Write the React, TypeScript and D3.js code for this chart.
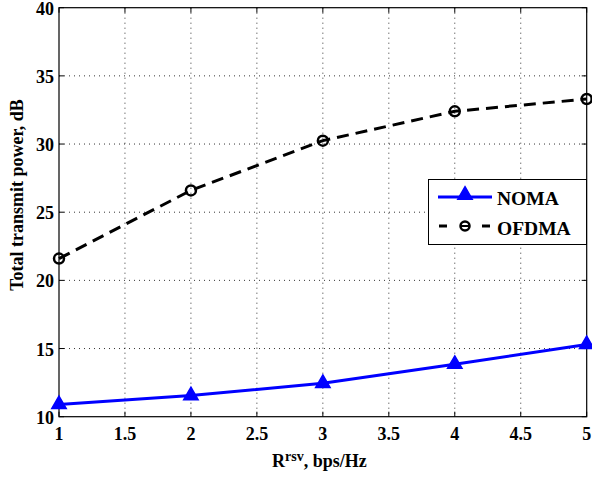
import React from "react";
import * as d3 from "d3";

const xValues = [1, 2, 3, 4, 5];
const nomaValues = [10.9, 11.55, 12.45, 13.85, 15.3];
const ofdmaValues = [21.6, 26.6, 30.25, 32.4, 33.3];
const xTicks = [1, 1.5, 2, 2.5, 3, 3.5, 4, 4.5, 5];
const yTicks = [10, 15, 20, 25, 30, 35, 40];

const W = 592, H = 478;
const L = 59, R = 586.7, T = 7.7, B = 416.7;

export default function App() {
  const x = d3.scaleLinear().domain([1, 5]).range([L, R]);
  const y = d3.scaleLinear().domain([10, 40]).range([B, T]);
  const line = d3.line<number>().x((_, i) => x(xValues[i])).y((d) => y(d));
  const font = "'Liberation Serif', 'DejaVu Serif', serif";
  const ts = { fontFamily: font, fontWeight: 700 } as React.CSSProperties;
  const tri = d3.symbol().type(d3.symbolTriangle).size(90)();
  return (
    <svg width={W} height={H} style={{ position: "absolute", left: 0, top: 0, background: "#fff" }}>
      <rect x={0} y={0} width={W} height={H} fill="#fff" />
      {xTicks.slice(1, -1).map((t) => (
        <line key={"gx" + t} x1={x(t)} x2={x(t)} y1={T} y2={B} stroke="#000" strokeWidth={0.8} strokeDasharray="1,4" />
      ))}
      {yTicks.slice(1, -1).map((t) => (
        <line key={"gy" + t} x1={L} x2={R} y1={y(t)} y2={y(t)} stroke="#000" strokeWidth={0.8} strokeDasharray="1,4" />
      ))}
      {xTicks.map((t) => (
        <g key={"tx" + t}>
          <line x1={x(t)} x2={x(t)} y1={B} y2={B - 5} stroke="#000" />
          <line x1={x(t)} x2={x(t)} y1={T} y2={T + 5} stroke="#000" />
          <text x={x(t)} y={B + 23.5} textAnchor="middle" fontSize={18} style={ts}>{t}</text>
        </g>
      ))}
      {yTicks.map((t) => (
        <g key={"ty" + t}>
          <line x1={L} x2={L + 5} y1={y(t)} y2={y(t)} stroke="#000" />
          <line x1={R} x2={R - 5} y1={y(t)} y2={y(t)} stroke="#000" />
          <text x={L - 5} y={y(t) + 7} textAnchor="end" fontSize={18} style={ts}>{t}</text>
        </g>
      ))}
      <rect x={L} y={T} width={R - L} height={B - T} fill="none" stroke="#000" strokeWidth={1.2} />
      <path d={line(ofdmaValues) || ""} fill="none" stroke="#000" strokeWidth={3} strokeDasharray="12,7" />
      {ofdmaValues.map((v, i) => (
        <circle key={"c" + i} cx={x(xValues[i])} cy={y(v)} r={5} fill="none" stroke="#000" strokeWidth={2.5} />
      ))}
      <path d={line(nomaValues) || ""} fill="none" stroke="#0000ff" strokeWidth={3} />
      {nomaValues.map((v, i) => (
        <path key={"t" + i} d={tri || ""} transform={`translate(${x(xValues[i])},${y(v)})`} fill="#0000ff" stroke="#0000ff" strokeWidth={1.5} />
      ))}
      <g>
        <rect x={428.5} y={179.5} width={158} height={65} fill="#fff" stroke="#000" strokeWidth={1} />
        <line x1={438} x2={492} y1={197} y2={197} stroke="#0000ff" strokeWidth={3} />
        <path d={tri || ""} transform="translate(465,195)" fill="#0000ff" stroke="#0000ff" strokeWidth={1.5} />
        <text x={497} y={204.5} fontSize={19.5} style={ts}>NOMA</text>
        <line x1={439} x2={447} y1={226} y2={226} stroke="#000" strokeWidth={3} />
        <line x1={482} x2={490} y1={226} y2={226} stroke="#000" strokeWidth={3} />
        <circle cx={465} cy={226} r={4.5} fill="none" stroke="#000" strokeWidth={2.5} />
        <line x1={461} x2={469} y1={226} y2={226} stroke="#000" strokeWidth={2} />
        <text x={497} y={234.5} fontSize={19.5} style={ts}>OFDMA</text>
      </g>
      <text x={272} y={467} fontSize={18} style={ts}>
        R<tspan dy={-6} fontSize={14}>rsv</tspan><tspan dy={6}>, bps/Hz</tspan>
      </text>
      <text transform={`translate(23,195) rotate(-90)`} textAnchor="middle" fontSize={18} style={ts}>Total transmit power, dB</text>
    </svg>
  );
}
